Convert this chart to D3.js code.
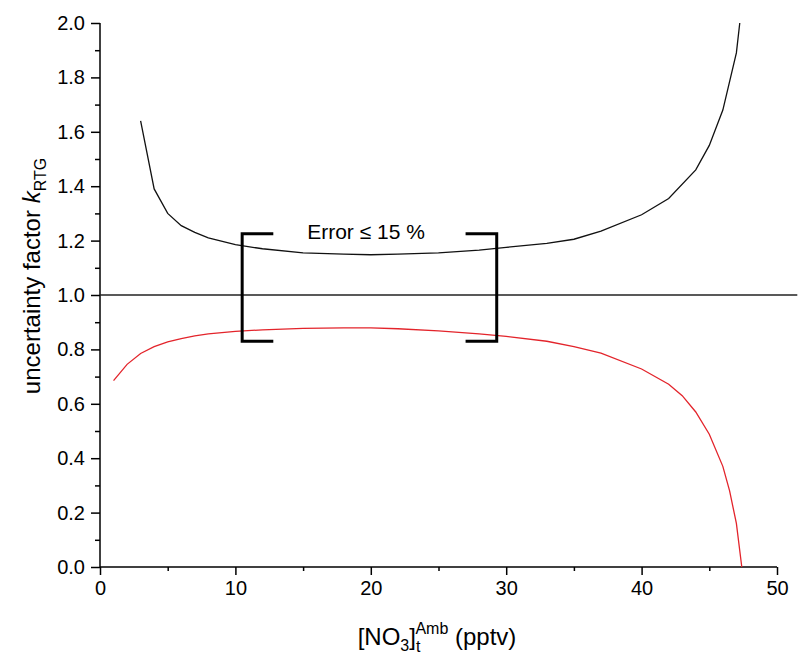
<!DOCTYPE html>
<html>
<head>
<meta charset="utf-8">
<script src="https://cdn.jsdelivr.net/npm/d3@7"></script>
<style>
  body { margin: 0; background: #fff; }
  svg text { font-family: "Liberation Sans", Arial, sans-serif; fill: #000; }
</style>
</head>
<body>
<div id="chart"></div>
<script>
// upper bound of k_RTG (black) and lower bound (red) vs [NO3] ambient
var upperX = [3, 4, 5, 6, 7, 8, 10, 12, 15, 18, 20, 22, 25, 28, 30, 33, 35, 37, 40, 42, 44, 45, 46, 47, 47.25]
var upperY = [1.64, 1.39, 1.30, 1.255, 1.23, 1.21, 1.185, 1.17, 1.155, 1.15, 1.148, 1.15, 1.155, 1.165, 1.175, 1.19, 1.205, 1.235, 1.295, 1.355, 1.46, 1.55, 1.68, 1.89, 2.0]

var lowerX = [1, 2, 3, 4, 5, 6, 7, 8, 10, 12, 15, 18, 20, 22, 25, 28, 30, 33, 35, 37, 40, 42, 43, 44, 45, 46, 46.5, 47, 47.4]
var lowerY = [0.685, 0.745, 0.785, 0.81, 0.828, 0.84, 0.85, 0.857, 0.866, 0.872, 0.877, 0.879, 0.879, 0.876, 0.868, 0.857, 0.848, 0.83, 0.81, 0.786, 0.728, 0.672, 0.63, 0.57, 0.488, 0.37, 0.28, 0.16, 0.0]

var refX = [0, 51.5]
var refY = [1, 1]

// "Error <= 15 %" brackets
var bracketX = [10.5, 29.3]
var bracketArmX = [12.8, 27.0]
var bracketY = [0.83, 1.225]
var errorLabel = "Error ≤ 15 %"
var errorLabelPos = [19.65, 1.205]

var xTicks = [0, 10, 20, 30, 40, 50]
var xMinor = [5, 15, 25, 35, 45]
var yTicks = [0, 0.2, 0.4, 0.6, 0.8, 1.0, 1.2, 1.4, 1.6, 1.8, 2.0]
var yMinor = [0.1, 0.3, 0.5, 0.7, 0.9, 1.1, 1.3, 1.5, 1.7, 1.9]

var width = 798, height = 658
var margin = {top: 23, left: 100}
var plotW = 677, plotH = 544

var svg = d3.select('#chart')
    .append('svg')
    .attr('width', width)
    .attr('height', height)

var x = d3.scaleLinear().domain([0, 50]).range([margin.left, margin.left + plotW])
var y = d3.scaleLinear().domain([0, 2]).range([margin.top + plotH, margin.top])

var line = d3.line()
    .x(function(d) { return x(d[0]) })
    .y(function(d) { return y(d[1]) })

// axes
var xAxis = svg.append('g')
    .attr('transform', 'translate(0,' + y(0) + ')')
    .call(d3.axisBottom(x).tickValues(xTicks).tickSize(8).tickPadding(6).tickFormat(d3.format('d')))
svg.append('g')
    .attr('transform', 'translate(0,' + y(0) + ')')
    .call(d3.axisBottom(x).tickValues(xMinor).tickSize(4).tickFormat(''))
    .select('.domain').remove()

var yAxis = svg.append('g')
    .attr('transform', 'translate(' + x(0) + ',0)')
    .call(d3.axisLeft(y).tickValues(yTicks).tickSize(9).tickPadding(6).tickFormat(d3.format('.1f')))
svg.append('g')
    .attr('transform', 'translate(' + x(0) + ',0)')
    .call(d3.axisLeft(y).tickValues(yMinor).tickSize(5).tickFormat(''))
    .select('.domain').remove()

svg.selectAll('.domain').attr('stroke', '#000').attr('stroke-width', 1.5)
svg.selectAll('.tick line').attr('stroke', '#000').attr('stroke-width', 1.5)
svg.selectAll('.tick text').attr('font-size', 20).attr('fill', '#000')
// tidy up the domain ends (no outer ticks)
xAxis.select('.domain').attr('d', 'M' + x(0) + ',0H' + x(50))
yAxis.select('.domain').attr('d', 'M0,' + y(0) + 'V' + y(2))

// reference line at 1.0
svg.append('path')
    .datum(d3.zip(refX, refY))
    .attr('d', line)
    .attr('fill', 'none')
    .attr('stroke', '#222')
    .attr('stroke-width', 1.3)

// curves
svg.append('path')
    .datum(d3.zip(upperX, upperY))
    .attr('d', line)
    .attr('fill', 'none')
    .attr('stroke', '#111')
    .attr('stroke-width', 1.3)

svg.append('path')
    .datum(d3.zip(lowerX, lowerY))
    .attr('d', line)
    .attr('fill', 'none')
    .attr('stroke', '#e3242b')
    .attr('stroke-width', 1.3)

// brackets
bracketX.forEach(function(bx, i) {
    var pts = [[bracketArmX[i], bracketY[1]], [bx, bracketY[1]], [bx, bracketY[0]], [bracketArmX[i], bracketY[0]]]
    svg.append('path')
        .datum(pts)
        .attr('d', line)
        .attr('fill', 'none')
        .attr('stroke', '#000')
        .attr('stroke-width', 3)
})

svg.append('text')
    .attr('x', x(errorLabelPos[0]))
    .attr('y', y(errorLabelPos[1]))
    .attr('text-anchor', 'middle')
    .attr('font-size', 21)
    .text(errorLabel)

// x axis title: [NO3]t^Amb (pptv)
var xt = svg.append('text')
    .attr('x', 437)
    .attr('y', 645)
    .attr('text-anchor', 'middle')
    .attr('font-size', 24)
xt.append('tspan').text('[NO')
xt.append('tspan').attr('font-size', 16).attr('dy', 6).text('3')
xt.append('tspan').attr('dy', -6).text(']')
xt.append('tspan').attr('font-size', 16).attr('dy', 7).text('t')
xt.append('tspan').attr('font-size', 16).attr('dx', -5).attr('dy', -18).text('Amb')
xt.append('tspan').attr('dy', 11).text(' (pptv)')

// y axis title
var yt = svg.append('text')
    .attr('transform', 'translate(40,276) rotate(-90)')
    .attr('text-anchor', 'middle')
    .attr('font-size', 24)
yt.append('tspan').text('uncertainty factor ')
yt.append('tspan').attr('font-style', 'italic').text('k')
yt.append('tspan').attr('font-size', 16).attr('dy', 6).text('RTG')
</script>
</body>
</html>
